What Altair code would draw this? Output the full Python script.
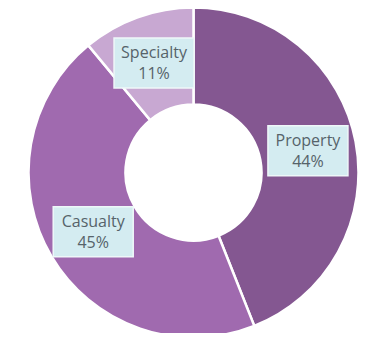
import math
import altair as alt
import pandas as pd

categories = ["Property", "Casualty", "Specialty"]
shares = [44, 45, 11]
orders = [1, 2, 3]
colors = ["#845791", "#A06AAF", "#C8A8D2"]

df = pd.DataFrame({"category": categories, "share": shares, "ord": orders})

W, H = 354, 325
CX, CY = 185.5, 164.5
R_OUT, R_IN = 165, 68
R_LAB = (R_OUT + R_IN) / 2

base = alt.Chart(df)

arcs = base.mark_arc(radius=R_OUT, radius2=R_IN, stroke="white", strokeWidth=2.5).encode(
    theta=alt.Theta("share:Q", stack=True),
    order=alt.Order("ord:Q", sort="ascending"),
    color=alt.Color("category:N", scale=alt.Scale(domain=categories, range=colors), legend=None),
    x=alt.value(CX),
    y=alt.value(CY),
)

lab = base.transform_joinaggregate(total="sum(share)").transform_window(
    cum="sum(share)", sort=[alt.SortField("ord", order="ascending")]
).transform_calculate(
    mid="(datum.cum - datum.share / 2) / datum.total * 2 * PI",
    bx=f"{R_LAB} * sin(datum.mid)",
    by=f"{R_LAB} * cos(datum.mid)",
    pct="datum.share + '%'",
)

xs = alt.Scale(domain=[-CX, W - CX], range=[0, W], nice=False, zero=False)
ys = alt.Scale(domain=[-(H - CY), CY], range=[H, 0], nice=False, zero=False)
enc_xy = dict(
    x=alt.X("bx:Q", scale=xs, axis=None),
    y=alt.Y("by:Q", scale=ys, axis=None),
)

boxes = lab.mark_point(
    shape="M-1.6,-1L1.6,-1L1.6,1L-1.6,1Z",
    size=2500,
    filled=True,
    fill="#D4ECF1",
    stroke="#EEF7F9",
    strokeWidth=1.5,
    opacity=1,
).encode(**enc_xy)

txt_style = dict(font="Open Sans", fontSize=16, color="#56636A", align="center", baseline="middle")

names = lab.mark_text(dy=-10, **txt_style).encode(text="category:N", **enc_xy)
pcts = lab.mark_text(dy=11, **txt_style).encode(text="pct:N", **enc_xy)

chart = alt.layer(arcs, boxes, names, pcts).properties(
    width=W, height=H, padding=0,
    autosize=alt.AutoSizeParams(type="none"),
).configure_view(stroke=None)

chart.save("out.html", embed_options={"renderer": "svg", "actions": False})
